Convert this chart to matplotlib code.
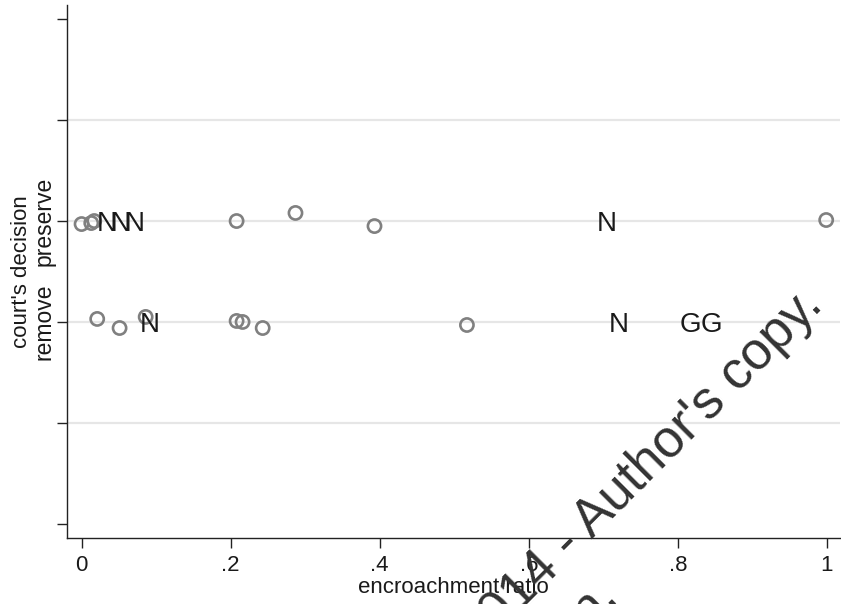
import matplotlib.pyplot as plt
import matplotlib.transforms as mtransforms

plt.rcParams['font.family'] = ['Liberation Sans', 'DejaVu Sans']

# circles (cases without label), y jittered around 0 = remove, 1 = preserve
circ_x = [0.0, 0.013, 0.017, 0.208, 0.287, 0.393, 0.999,
          0.021, 0.051, 0.086, 0.208, 0.216, 0.243, 0.517]
circ_y = [0.97, 0.98, 1.0, 1.0, 1.08, 0.95, 1.01,
          0.03, -0.06, 0.05, 0.01, 0.0, -0.06, -0.03]

# labelled cases (N / G)
lab_x = [0.034, 0.052, 0.071, 0.705, 0.091, 0.721, 0.817, 0.845]
lab_y = [1, 1, 1, 1, 0, 0, 0, 0]
lab_txt = ['N', 'N', 'N', 'N', 'N', 'N', 'G', 'G']

yticks = [-2, -1, 0, 1, 2, 3]
ytick_labels = ['', '', 'remove', 'preserve', '', '']
grid_y = [-1, 0, 1, 2]
xticks = [0, 0.2, 0.4, 0.6, 0.8, 1]
xtick_labels = ['0', '.2', '.4', '.6', '.8', '1']

fig = plt.figure(figsize=(8.41, 6.04), dpi=100)
ax = fig.add_axes([0.0797, 0.1093, 0.9191, 0.8824])

for g in grid_y:
    ax.axhline(g, color='#e6e6e6', lw=1.6, zorder=0)

ax.scatter(circ_x, circ_y, s=90, facecolors='none', edgecolors='#808080',
           linewidths=1.9, zorder=3)

trans = mtransforms.offset_copy(ax.transData, fig=fig, y=-7.2, units='points')
for x, y, t in zip(lab_x, lab_y, lab_txt):
    ax.text(x, y, t, fontsize=20, color='#1a1a1a', ha='center', va='baseline',
            transform=trans, zorder=4)

ax.set_xlim(-0.0195, 1.0175)
ax.set_ylim(-2.14, 3.14)
ax.set_xticks(xticks)
ax.set_xticklabels(xtick_labels, fontsize=16, color='#1a1a1a')
ax.set_yticks(yticks)
ax.set_yticklabels(ytick_labels, fontsize=16.5, rotation=90, va='center',
                   color='#1a1a1a')
ax.tick_params(axis='both', length=7, width=1, color='#222222')
ax.tick_params(axis='x', pad=5)
ax.tick_params(axis='y', pad=1.5)
ax.set_xlabel('encroachment ratio', fontsize=16, color='#1a1a1a', labelpad=1)
ax.set_ylabel("court's decision", fontsize=16, color='#1a1a1a', labelpad=0)

for s in ['top', 'right']:
    ax.spines[s].set_visible(False)
for s in ['left', 'bottom']:
    ax.spines[s].set_color('#222222')
    ax.spines[s].set_linewidth(1)

# watermark
fig.text(0.9800, 1 - 307 / 604, "2014 - Author's copy.", fontsize=38,
         color='#333333', rotation=45, rotation_mode='anchor',
         ha='right', va='baseline', zorder=10)
fig.text(0.7370, 1 - 597 / 604, "n.", fontsize=38,
         color='#333333', rotation=45, rotation_mode='anchor',
         ha='right', va='baseline', zorder=10)

fig.savefig('out.png', dpi=100, facecolor='white')
